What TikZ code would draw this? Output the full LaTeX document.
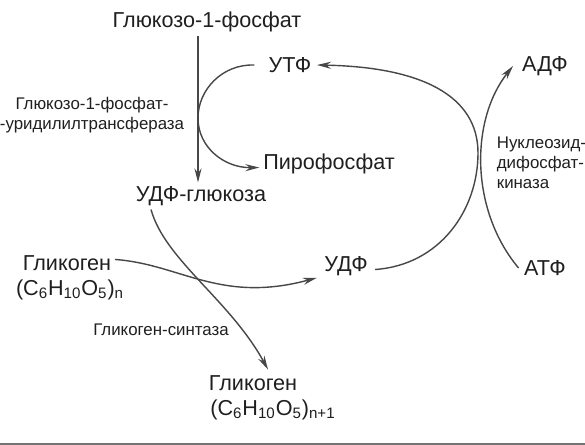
\documentclass[tikz,border=0pt]{standalone}
\usepackage{fontspec}
\setmainfont{Liberation Sans}
\usetikzlibrary{arrows.meta,calc}

\begin{document}
\begin{tikzpicture}[x=0.02cm, y=-0.02cm, >={Stealth[length=8pt,width=4pt]},
  every node/.style={font=\fontsize{12.3}{14}\selectfont, inner sep=2pt, text=black!88},
  enz/.style={font=\fontsize{9.6}{11.5}\selectfont, align=center},
  flow/.style={->, line width=0.8pt, draw=black!72}]
  \useasboundingbox (0,0) rectangle (585,445);
  % metabolites
  \node (g1p) at (207,22) {Глюкозо-1-фосфат};
  \node (utf) at (290,65) {УТФ};
  \node (pyro) at (329,164) {Пирофосфат};
  \node (udpg) at (201,196) {УДФ-глюкоза};
  \node (udf) at (346,266) {УДФ};
  \node (adf) at (545,66) {АДФ};
  \node (atf) at (545,268) {АТФ};
  \node (glyc) at (67,263) {Гликоген};
  \node (glycf) at (70,290) {(C\textsubscript{6}H\textsubscript{10}O\textsubscript{5})\textsubscript{n}};
  \node (glyc2) at (253,383) {Гликоген};
  \node (glyc2f) at (273,410) {(C\textsubscript{6}H\textsubscript{10}O\textsubscript{5})\textsubscript{n+1}};
  % enzymes
  \node[enz] (udpt) at (92,115) {Глюкозо-1-фосфат-\\-уридилилтрансфераза};
  \node[enz, align=left, anchor=west] (ndk) at (493,163) {Нуклеозид-\\дифосфат-\\киназа};
  \node[enz] (gs) at (161,330) {Гликоген-синтаза};
  % reactions
  \draw[flow] (g1p.south -| 198,0) -- (udpg.north -| 198,0);
  \draw[flow] ([xshift=-6pt]utf.west) .. controls (222,64) and (198,90) .. (198,118)
    .. controls (198,148) and (225,168) .. ([yshift=-2pt]pyro.west);
  \draw[flow] ([shift={(2pt,-2pt)}]udf.east) .. controls (440,265) and (478,210) .. (478,153)
    .. controls (478,95) and (420,67) .. ([xshift=1pt]utf.east);
  \draw[flow] ([xshift=-1pt]atf.west) .. controls (470,210) and (470,120) .. ([xshift=-3pt]adf.west);
  \draw[flow] ($(udpg.south)+(-50,0)$) .. controls (165,260) and (230,300) .. ($(glyc2.north)+(15,-2)$);
  \draw[flow] ([yshift=2pt]glyc.east) .. controls (180,264) and (220,304) .. ([shift={(-2pt,1pt)}]udf.south west);
  % bottom rule
  \draw[black!55, line width=1.2pt] (0,444) -- (585,444);
\end{tikzpicture}
\end{document}
